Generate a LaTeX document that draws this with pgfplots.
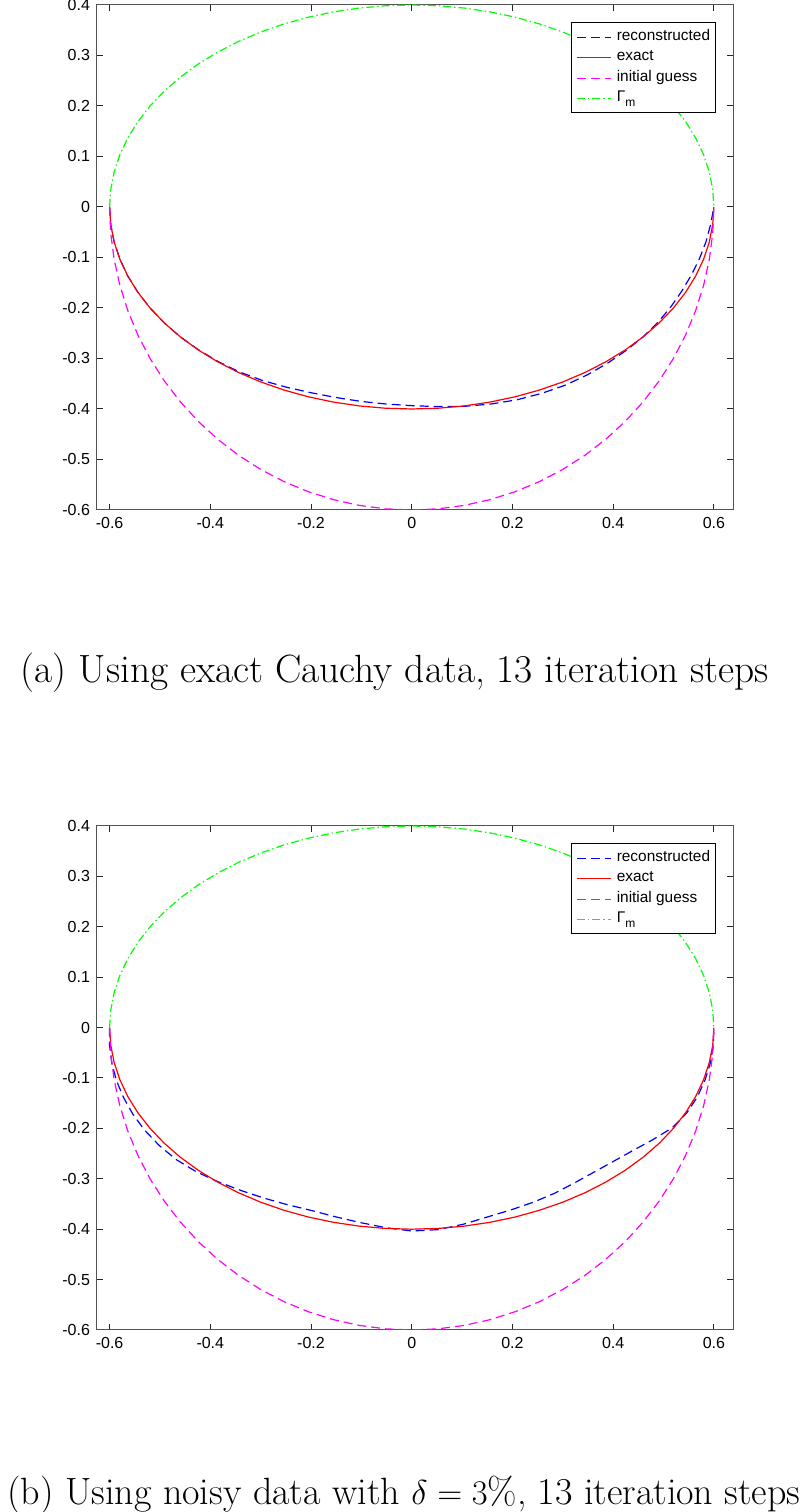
\documentclass[border=0pt]{standalone}
\usepackage{pgfplots}
\usepackage{pgfplotstable}
\pgfplotsset{compat=1.18}
\usepackage{fontspec}
\newfontfamily\arial{Liberation Sans}
\newcommand{\legfont}{\arial\fontsize{7.7}{9}\selectfont}
\newcommand{\subfont}{\arial\fontsize{6}{6}\selectfont}
\newcommand{\tickfont}{\arial\fontsize{8}{9}\selectfont}

\pgfplotstableread{
x y
-0.6 0
-0.59771 -0.03486
-0.59089 -0.06946
-0.57956 -0.10353
-0.56381 -0.13681
-0.54379 -0.16905
-0.51962 -0.2
-0.49149 -0.22943
-0.45962 -0.25712
-0.42426 -0.28284
-0.38567 -0.30642
-0.34415 -0.32766
-0.3 -0.34641
-0.25357 -0.36252
-0.20521 -0.37588
-0.15529 -0.38637
-0.10419 -0.39392
-0.05230 -0.39848
0 -0.4
0.05230 -0.39848
0.10419 -0.39392
0.15529 -0.38637
0.20521 -0.37588
0.25357 -0.36252
0.3 -0.34641
0.34415 -0.32766
0.38567 -0.30642
0.42426 -0.28284
0.45962 -0.25712
0.49149 -0.22943
0.51962 -0.2
0.54379 -0.16905
0.56381 -0.13681
0.57956 -0.10353
0.59089 -0.06946
0.59771 -0.03486
0.6 0
}\exact

\pgfplotstableread{
x y
-0.6 0
-0.59771 0.03486
-0.59089 0.06946
-0.57956 0.10353
-0.56381 0.13681
-0.54379 0.16905
-0.51962 0.2
-0.49149 0.22943
-0.45962 0.25712
-0.42426 0.28284
-0.38567 0.30642
-0.34415 0.32766
-0.3 0.34641
-0.25357 0.36252
-0.20521 0.37588
-0.15529 0.38637
-0.10419 0.39392
-0.05230 0.39848
0 0.4
0.05230 0.39848
0.10419 0.39392
0.15529 0.38637
0.20521 0.37588
0.25357 0.36252
0.3 0.34641
0.34415 0.32766
0.38567 0.30642
0.42426 0.28284
0.45962 0.25712
0.49149 0.22943
0.51962 0.2
0.54379 0.16905
0.56381 0.13681
0.57956 0.10353
0.59089 0.06946
0.59771 0.03486
0.6 0
}\gammam

\pgfplotstableread{
x y
-0.6 0
-0.59771 -0.05230
-0.59089 -0.10419
-0.57956 -0.15529
-0.56381 -0.20521
-0.54379 -0.25357
-0.51962 -0.3
-0.49149 -0.34415
-0.45962 -0.38567
-0.42426 -0.42426
-0.38567 -0.45962
-0.34415 -0.49149
-0.3 -0.51962
-0.25357 -0.54379
-0.20521 -0.56381
-0.15529 -0.57956
-0.10419 -0.59089
-0.05230 -0.59771
0 -0.6
0.05230 -0.59771
0.10419 -0.59089
0.15529 -0.57956
0.20521 -0.56381
0.25357 -0.54379
0.3 -0.51962
0.34415 -0.49149
0.38567 -0.45962
0.42426 -0.42426
0.45962 -0.38567
0.49149 -0.34415
0.51962 -0.3
0.54379 -0.25357
0.56381 -0.20521
0.57956 -0.15529
0.59089 -0.10419
0.59771 -0.05230
0.6 0
}\initial

\pgfplotstableread{
x y
-0.6 0
-0.59771 -0.03486
-0.59089 -0.06946
-0.57956 -0.10353
-0.56381 -0.13681
-0.54379 -0.16905
-0.51962 -0.2
-0.49149 -0.22943
-0.45962 -0.25712
-0.42384 -0.28256
-0.38490 -0.30581
-0.34277 -0.32635
-0.29730 -0.34329
-0.24951 -0.35672
-0.20070 -0.36761
-0.15156 -0.37710
-0.10179 -0.38486
-0.05120 -0.39011
0 -0.3934
0.05188 -0.39529
0.10440 -0.39471
0.15684 -0.39023
0.20849 -0.38189
0.25813 -0.36905
0.30540 -0.35265
0.34897 -0.33225
0.38914 -0.30918
0.42596 -0.28397
0.45962 -0.25712
0.48903 -0.22828
0.51442 -0.198
0.53618 -0.16668
0.55535 -0.13476
0.57145 -0.10208
0.58439 -0.06870
0.59353 -0.03462
0.6 0
}\recA

\pgfplotstableread{
x y
-0.6 0
-0.60010 -0.03500
-0.59562 -0.07002
-0.58651 -0.10477
-0.57227 -0.13886
-0.55358 -0.17209
-0.53001 -0.204
-0.50132 -0.23402
-0.46789 -0.26175
-0.42850 -0.28567
-0.38490 -0.30581
-0.33933 -0.32307
-0.2931 -0.33844
-0.24596 -0.35164
-0.19823 -0.36310
-0.15094 -0.37555
-0.10231 -0.38683
-0.05209 -0.39689
0 -0.4036
0.05261 -0.40087
0.10315 -0.38998
0.15094 -0.37555
0.19741 -0.36160
0.24216 -0.34621
0.2844 -0.32840
0.32350 -0.30800
0.36137 -0.28712
0.39923 -0.26615
0.43756 -0.24478
0.47773 -0.22301
0.51702 -0.199
0.54597 -0.16973
0.56719 -0.13763
0.58246 -0.10405
0.59325 -0.06974
0.59891 -0.03493
0.6 0
}\recB

\definecolor{axgray}{rgb}{0.15,0.15,0.15}
\definecolor{cblue}{rgb}{0,0,1}
\definecolor{cred}{rgb}{1,0,0}
\definecolor{cmag}{rgb}{1,0,1}
\definecolor{cgreen}{rgb}{0,1,0}
\definecolor{dummyA}{rgb}{0.123,0.456,0.789}

\tikzset{
  recon/.style={draw=cblue, line width=0.6pt, dash pattern=on 4.5pt off 2.5pt},
  exactst/.style={draw=cred, line width=0.6pt},
  initst/.style={draw=cmag, line width=0.6pt, dash pattern=on 4.5pt off 2.5pt},
  gammast/.style={draw=cgreen, line width=0.6pt, dash pattern=on 4pt off 1.5pt on 0.7pt off 1.5pt},
}
\newcommand{\seg}[1]{\rule[0.33ex]{#1}{0.6pt}}
\newcommand{\forcecolor}[2]{\textcolor{dummyA}{\textcolor{#1}{#2}}}
\newcommand{\dashsample}[1]{\forcecolor{#1}{\seg{4.5pt}\hspace{2.5pt}\seg{4.5pt}\hspace{2.5pt}\seg{3pt}}}
\newcommand{\solidsample}[1]{\forcecolor{#1}{\seg{17pt}}}
\newcommand{\dashdotsample}[1]{\forcecolor{#1}{\seg{4pt}\hspace{1.5pt}\seg{0.7pt}\hspace{1.5pt}\seg{4pt}\hspace{1.5pt}\seg{0.7pt}\hspace{1.5pt}\seg{1.6pt}}}
\newcommand{\legtable}{%
    \begin{tabular}{@{}l@{\hspace{3pt}}l@{}}
      \dashsample{cblue} & reconstructed\\[1.25pt]
      \solidsample{cred} & exact\\[1.25pt]
      \dashsample{cmag} & initial guess\\[1.25pt]
      \dashdotsample{cgreen} & Γ\raisebox{-0.55ex}{\subfont m}
    \end{tabular}}

\pgfplotsset{
  myaxis/.style={
    anchor=south west,
    width=318pt, height=252.5pt, scale only axis,
    xmin=-0.625, xmax=0.638, ymin=-0.6, ymax=0.4,
    xtick={-0.6,-0.4,-0.2,0,0.2,0.4,0.6},
    xticklabels={-0.6,-0.4,-0.2,0,0.2,0.4,0.6},
    ytick={-0.6,-0.5,-0.4,-0.3,-0.2,-0.1,0,0.1,0.2,0.3,0.4},
    yticklabels={-0.6,-0.5,-0.4,-0.3,-0.2,-0.1,0,0.1,0.2,0.3,0.4},
    tick align=inside, major tick length=3pt,
    axis line style={draw=axgray!80, line width=0.5pt},
    every tick/.style={draw=axgray, line width=0.5pt},
    ticklabel style={font=\tickfont},
  },
}

\begin{document}
\begin{tikzpicture}
\useasboundingbox (0,0) rectangle (404pt,756pt);
\begin{axis}[myaxis, at={(48.5pt,501pt)}]
\addplot[recon] table[x=x,y=y] {\recA};
\addplot[exactst] table[x=x,y=y] {\exact};
\addplot[initst] table[x=x,y=y] {\initial};
\addplot[gammast] table[x=x,y=y] {\gammam};
\end{axis}
\node[draw=black, line width=0.5pt, fill=white, anchor=north east, inner sep=2.6pt, font=\legfont]
    at (357.9pt,744.9pt) {\legtable};
\begin{axis}[myaxis, at={(48.5pt,91pt)}, height=252pt]
\addplot[recon] table[x=x,y=y] {\recB};
\addplot[exactst] table[x=x,y=y] {\exact};
\addplot[initst] table[x=x,y=y] {\initial};
\addplot[gammast] table[x=x,y=y] {\gammam};
\end{axis}
\node[draw=black, line width=0.5pt, fill=white, anchor=north east, inner sep=2.6pt, font=\legfont]
    at (357.9pt,334.4pt) {\legtable};
\node[anchor=base, font=\fontsize{19.7}{23}\selectfont] at (197.5pt,414.5pt) {(a) Using exact Cauchy data, 13 iteration steps};
\node[anchor=base, font=\fontsize{19}{23}\selectfont] at (202pt,3.5pt) {(b) Using noisy data with $\delta = 3\%$, 13 iteration steps};
\end{tikzpicture}
\end{document}
